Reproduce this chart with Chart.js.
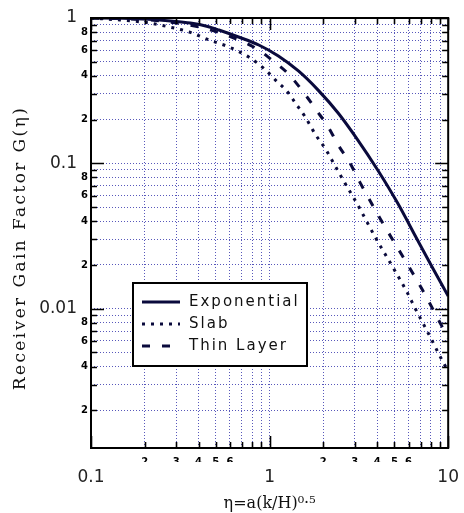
<!DOCTYPE html>
<html>
<head>
<meta charset="utf-8">
<script src="https://cdn.jsdelivr.net/npm/chart.js@4"></script>
<style>
  html, body { margin: 0; padding: 0; background: #fff; }
  #wrap { width: 464px; height: 513px; position: relative; }
</style>
</head>
<body>
<div id="wrap"><canvas id="gainChart"></canvas></div>
<script>
// values: eta on x, receiver gain factor G(eta) on y
const expEta  = [0.1, 0.15, 0.21, 0.28, 0.36, 0.45, 0.52, 0.67, 0.87, 1.12, 1.45, 1.87, 2.42, 3.12, 4.03, 5.21, 6.73, 8.2, 10];
const expGain = [1.0, 0.995, 0.98, 0.955, 0.924, 0.875, 0.827, 0.740, 0.652, 0.548, 0.432, 0.319, 0.222, 0.1446, 0.090, 0.0533, 0.0297, 0.019, 0.0122];

const slabEta  = [0.1, 0.145, 0.213, 0.275, 0.355, 0.458, 0.592, 0.764, 0.95, 1.079, 1.275, 1.394, 1.585, 1.8, 2.07, 2.33, 2.64, 3.12, 3.93, 5.01, 5.92, 6.56, 7.37, 8.15, 8.93, 10];
const slabGain = [1.0, 0.969, 0.924, 0.867, 0.801, 0.706, 0.632, 0.539, 0.439, 0.374, 0.305, 0.260, 0.208, 0.159, 0.124, 0.0958, 0.0732, 0.0516, 0.0306, 0.0184, 0.0128, 0.00994, 0.00759, 0.00598, 0.00479, 0.0037];

const thinEta  = [0.1, 0.213, 0.403, 0.673, 0.869, 1.03, 1.275, 1.606, 1.824, 2.13, 2.418, 2.82, 3.2, 4.14, 5.55, 7.17, 9.26, 10];
const thinGain = [1.0, 0.969, 0.867, 0.706, 0.602, 0.514, 0.412, 0.290, 0.233, 0.178, 0.134, 0.1005, 0.0743, 0.0421, 0.0230, 0.0135, 0.0075, 0.00627];

const seriesNames = ['Exponential', 'Slab', 'Thin Layer'];

// axis ticks
const xRange = [0.1, 10];
const yRange = [0.0011, 1];
const xDecades = [0.1, 1];
const yDecades = [0.001, 0.01, 0.1];
const mantissas = [1, 2, 3, 4, 5, 6, 7, 8, 9];
const xLabeledMantissas = [2, 3, 4, 5, 6];
const yLabeledMantissas = [2, 4, 6, 8];
const xMajorTicks = [0.1, 1, 10];
const yMajorTicks = [0.01, 0.1, 1];

const xTitle = 'η=a(k/H)⁰·⁵';
const yTitle = 'Receiver Gain Factor G(η)';

const ink = '#0a0a3c';
const gridColor = 'rgba(70, 70, 180, 0.9)';

function mant(v) {
  return Math.round(v / Math.pow(10, Math.floor(Math.log10(v) + 1e-9)));
}
function isMajor(v) { return mant(v) === 1; }

function fullTicks(decades, top, lo) {
  const out = [];
  decades.forEach(d => mantissas.forEach(m => {
    const v = +(d * m).toPrecision(3);
    if (v >= lo) out.push(v);
  }));
  out.push(top);
  return out;
}
const xAllTicks = fullTicks(xDecades, xRange[1], xRange[0]);
const yAllTicks = fullTicks(yDecades, yRange[1], yRange[0]);

function pts(xs, ys) {
  return xs.map((x, i) => ({ x: x, y: ys[i] }));
}

// frame, inward tick marks, boxed legend and spaced y title
const decorations = {
  id: 'decorations',
  afterDatasetsDraw(chart) {
    const ctx = chart.ctx;
    const a = chart.chartArea;
    const xs = chart.scales.x, ys = chart.scales.y;
    ctx.save();
    ctx.strokeStyle = '#000';
    ctx.lineWidth = 2;
    ctx.strokeRect(a.left, a.top, a.right - a.left, a.bottom - a.top);

    ctx.lineWidth = 1.6;
    ctx.beginPath();
    xs.ticks.forEach(t => {
      const p = Math.round(xs.getPixelForValue(t.value)) + 0.5;
      const len = isMajor(t.value) ? 12 : 6;
      ctx.moveTo(p, a.bottom); ctx.lineTo(p, a.bottom - len);
      ctx.moveTo(p, a.top); ctx.lineTo(p, a.top + len);
    });
    ys.ticks.forEach(t => {
      const p = Math.round(ys.getPixelForValue(t.value)) + 0.5;
      const len = isMajor(t.value) ? 13 : 6;
      ctx.moveTo(a.left, p); ctx.lineTo(a.left + len, p);
      ctx.moveTo(a.right, p); ctx.lineTo(a.right - len, p);
    });
    ctx.stroke();

    // legend box
    const bx = a.left + 42, by = a.top + 265, bw = 174, bh = 83;
    ctx.fillStyle = '#fff';
    ctx.fillRect(bx, by, bw, bh);
    ctx.lineWidth = 2;
    ctx.strokeStyle = '#000';
    ctx.strokeRect(bx, by, bw, bh);
    ctx.font = '15px "DejaVu Sans"';
    ctx.letterSpacing = '2px';
    ctx.textBaseline = 'middle';
    ctx.textAlign = 'left';
    chart.data.datasets.forEach((ds, i) => {
      const ry = by + 19 + i * 22;
      ctx.save();
      ctx.strokeStyle = ds.borderColor;
      ctx.lineWidth = ds.borderWidth;
      ctx.setLineDash(ds.borderDash || []);
      ctx.beginPath();
      ctx.moveTo(bx + 9, ry); ctx.lineTo(bx + 47, ry);
      ctx.stroke();
      ctx.restore();
      ctx.fillStyle = '#111';
      ctx.fillText(ds.label, bx + 56, ry);
    });

    // y title
    ctx.translate(21, (a.top + a.bottom) / 2 + 15);
    ctx.rotate(-Math.PI / 2);
    ctx.font = '17px "DejaVu Serif"';
    ctx.letterSpacing = '2.4px';
    ctx.textAlign = 'center';
    ctx.fillStyle = '#111';
    ctx.fillText(yTitle, 0, 0);
    ctx.restore();
  }
};

new Chart(document.getElementById('gainChart'), {
  type: 'line',
  data: {
    datasets: [
      { label: seriesNames[0], data: pts(expEta, expGain), borderColor: ink, borderWidth: 3, borderDash: [] },
      { label: seriesNames[1], data: pts(slabEta, slabGain), borderColor: ink, borderWidth: 3, borderDash: [3, 6] },
      { label: seriesNames[2], data: pts(thinEta, thinGain), borderColor: ink, borderWidth: 3, borderDash: [8, 12] }
    ]
  },
  options: {
    responsive: true,
    maintainAspectRatio: false,
    animation: false,
    layout: { padding: { left: 0, right: 13, top: 18, bottom: 0 } },
    elements: {
      point: { radius: 0 },
      line: { cubicInterpolationMode: 'monotone', fill: false }
    },
    plugins: {
      legend: { display: false },
      tooltip: { enabled: false }
    },
    scales: {
      x: {
        type: 'logarithmic', position: 'bottom', weight: 0,
        min: xRange[0], max: xRange[1],
        afterBuildTicks: s => { s.ticks = xAllTicks.map(v => ({ value: v })); },
        afterFit: s => { s.height = 14; },
        ticks: {
          autoSkip: false, maxRotation: 0, padding: 8, color: '#000',
          font: { family: 'DejaVu Sans', size: 10, weight: 'bold' },
          callback: v => xLabeledMantissas.includes(mant(v)) ? String(mant(v)) : ''
        },
        grid: { color: gridColor, lineWidth: 1, drawTicks: false },
        border: { display: false, dash: [1, 2] }
      },
      xMaj: {
        type: 'logarithmic', position: 'bottom', weight: 1,
        min: xRange[0], max: xRange[1],
        afterBuildTicks: s => { s.ticks = xMajorTicks.map(v => ({ value: v })); },
        afterFit: s => { s.height = 51; },
        ticks: {
          autoSkip: false, maxRotation: 0, padding: 5, color: '#222',
          font: { family: 'DejaVu Sans', size: 17 },
          callback: v => String(v)
        },
        grid: { display: false, drawTicks: false },
        border: { display: false },
        title: {
          display: true, text: xTitle, color: '#111',
          font: { family: 'DejaVu Serif', size: 16 },
          padding: { top: 0, bottom: 0 }
        }
      },
      y: {
        type: 'logarithmic', position: 'left', weight: 0,
        min: yRange[0], max: yRange[1],
        afterBuildTicks: s => { s.ticks = yAllTicks.map(v => ({ value: v })); },
        afterFit: s => { s.width = 12; },
        ticks: {
          autoSkip: false, padding: 3, color: '#000',
          font: { family: 'DejaVu Sans', size: 10, weight: 'bold' },
          callback: v => yLabeledMantissas.includes(mant(v)) ? String(mant(v)) : ''
        },
        grid: { color: gridColor, lineWidth: 1, drawTicks: false },
        border: { display: false, dash: [1, 2] }
      },
      yMaj: {
        type: 'logarithmic', position: 'left', weight: 1,
        min: yRange[0], max: yRange[1],
        afterBuildTicks: s => { s.ticks = yMajorTicks.map(v => ({ value: v })); },
        afterFit: s => { s.width = 79; },
        ticks: {
          autoSkip: false, padding: 2, color: '#222',
          font: { family: 'DejaVu Sans', size: 17 },
          callback: v => String(v)
        },
        grid: { display: false, drawTicks: false },
        border: { display: false }
      }
    }
  },
  plugins: [decorations]
});
</script>
</body>
</html>
